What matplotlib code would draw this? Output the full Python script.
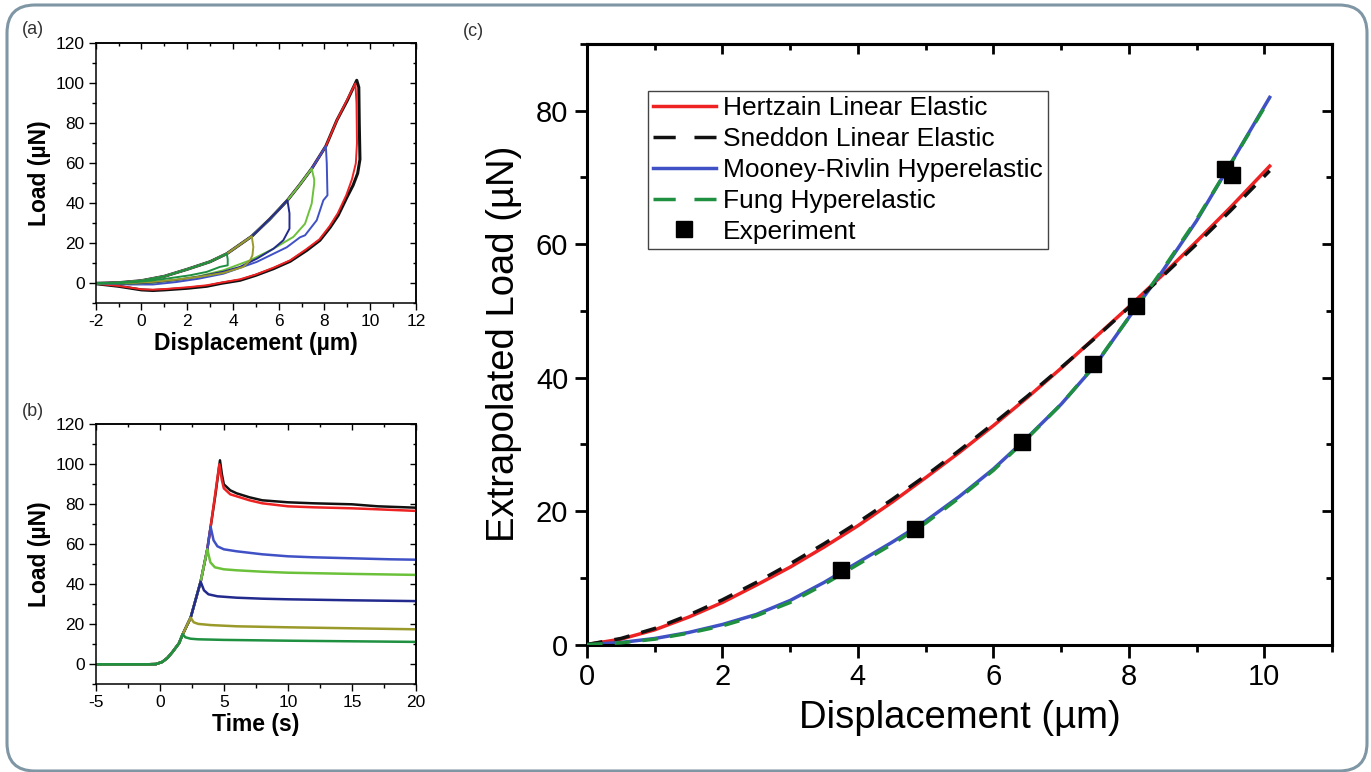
import matplotlib
matplotlib.use("Agg")
import matplotlib.pyplot as plt
from matplotlib.patches import FancyBboxPatch
from matplotlib.lines import Line2D
from matplotlib.transforms import IdentityTransform
from matplotlib.ticker import MultipleLocator

plt.rcParams['font.family'] = ['Liberation Sans', 'DejaVu Sans']
plt.rcParams['axes.unicode_minus'] = False

# ---------------- Panel (a): load vs displacement hysteresis ----------------
a_load_x = [-2, -1, 0, 1, 2, 3, 3.73, 4.82, 5.6, 6.38, 6.9, 7.44, 8.06, 8.54, 9.0, 9.41]
a_load_y = [0, 0.3, 1.3, 3.5, 7, 10.8, 14.8, 23.5, 32, 41.5, 49, 57.3, 68.6, 81.5, 91.5, 101.5]

a_black_peak = 15
a_black_ux = [9.41, 9.5, 9.52, 9.55, 9.45, 9.25, 8.98, 8.6, 8.25, 7.8, 7.23, 6.5, 5.77, 5.0, 4.31, 3.5, 2.85, 2.0, 1.0, 0.5, 0, -1, -2]
a_black_uy = [101.5, 98, 80, 62, 55, 49, 43, 34, 28, 21.5, 16.5, 11, 7.3, 4.0, 1.5, 0, -1.5, -2.5, -3.3, -3.6, -3.3, -1.5, -0.2]

a_red_peak = 14
a_red_ux = [9.35, 9.4, 9.42, 9.37, 9.2, 8.95, 8.58, 8.22, 7.78, 7.2, 6.5, 5.77, 5.0, 4.31, 3.5, 2.85, 2.0, 1.0, 0.5, 0, -1, -2]
a_red_uy = [100, 90, 70, 60, 52, 44, 35, 28.5, 22, 17, 11.5, 7.8, 4.4, 2, 0.4, -1.0, -2.0, -2.9, -3.2, -3.0, -1.3, -0.2]

a_blue_peak = 12
a_blue_ux = [8.06, 8.1, 8.13, 7.95, 7.66, 7.15, 6.93, 6.35, 5.04, 3.58, 2.5, 1.5, 0.5, -0.5, -2]
a_blue_uy = [68.6, 60, 44, 41.5, 31.5, 24, 23, 18, 10.7, 4.8, 2.3, 0.6, -0.6, -0.6, 0]

a_lgreen_peak = 11
a_lgreen_ux = [7.44, 7.55, 7.55, 7.44, 7.15, 6.64, 5.77, 4.75, 3.58, 2.5, 1.5, 0.5, -0.5, -2]
a_lgreen_uy = [57.3, 52, 49.8, 39.8, 29.8, 23.2, 17.3, 11.5, 6.5, 3.5, 1.7, 0.3, -0.3, 0]

a_navy_peak = 9
a_navy_ux = [6.38, 6.47, 6.47, 6.2, 5.77, 5.04, 4.31, 3.58, 2.5, 1.5, 0.5, -0.5, -2]
a_navy_uy = [41.5, 35, 27.3, 21.5, 17.3, 12.3, 8.2, 5.8, 3.3, 1.6, 0.4, -0.2, 0]

a_olive_peak = 7
a_olive_ux = [4.82, 4.89, 4.85, 4.75, 4.45, 3.58, 2.5, 1.5, 0.5, -0.5, -2]
a_olive_uy = [23.5, 18.2, 14, 11.5, 8.2, 5.2, 3.2, 1.8, 0.7, 0.1, 0]

a_green_peak = 6
a_green_ux = [3.73, 3.77, 3.77, 3.43, 2.85, 2.12, 1.2, 0.38, -0.5, -2]
a_green_uy = [14.8, 12, 9, 8.2, 5.7, 4.0, 2.5, 1.3, 0.4, 0]

# ---------------- Panel (b): load vs time ----------------
b_rise_t = [-5, -4, -3, -2, -1, -0.3, 0.2, 0.6, 1.0, 1.5, 1.79, 2.41, 3.19, 3.71, 3.97, 4.35, 4.70]
b_rise_y = [0, 0, 0, 0, 0, 0.1, 1.2, 3.2, 6.2, 10.5, 15, 23.3, 41.3, 57.5, 68.7, 85, 102]

b_black_peak = 16
b_black_t = [4.70, 4.85, 5.0, 5.5, 6, 7, 8, 10, 12, 15, 17, 20]
b_black_y = [102, 95, 90, 87, 85.5, 83.5, 82, 81, 80.5, 80, 79, 78.3]
b_red_peak = 15
b_red_t = [4.65, 4.85, 5.0, 5.5, 6, 7, 8, 10, 12, 15, 17, 20]
b_red_y = [100, 92, 88, 85, 84, 82, 80.5, 79, 78.5, 78, 77.5, 76.7]
b_blue_peak = 14
b_blue_t = [3.97, 4.2, 4.5, 5, 6, 8, 10, 12, 15, 18, 20]
b_blue_y = [68.7, 62, 59, 57.5, 56.5, 55, 54, 53.5, 53, 52.5, 52.3]
b_lgreen_peak = 13
b_lgreen_t = [3.71, 3.95, 4.3, 5, 6, 8, 10, 15, 20]
b_lgreen_y = [57.5, 51, 48.5, 47.5, 47, 46.3, 45.8, 45.2, 44.7]
b_navy_peak = 12
b_navy_t = [3.19, 3.45, 3.8, 4.5, 6, 8, 10, 15, 20]
b_navy_y = [41.3, 37, 35, 34, 33.3, 32.8, 32.5, 32, 31.6]
b_olive_peak = 11
b_olive_t = [2.41, 2.65, 3.0, 4, 6, 10, 15, 20]
b_olive_y = [23.3, 21, 20.2, 19.6, 19, 18.5, 18, 17.5]
b_green_peak = 10
b_green_t = [1.79, 2.0, 2.4, 3, 5, 10, 15, 20]
b_green_y = [15, 13.5, 12.8, 12.5, 12.2, 11.8, 11.5, 11.2]

# ---------------- Panel (c): extrapolated load ----------------
c_disp = [0, 0.5, 1, 1.5, 2, 2.5, 3, 3.5, 4, 4.5, 5, 5.5, 6, 6.5, 7, 7.5, 8, 8.5, 9, 9.5, 10.08]
c_hertz = [0, 0.8, 2.2, 4.1, 6.3, 8.9, 11.6, 14.6, 17.8, 21.3, 25.0, 28.8, 32.8, 37.0, 41.4, 46.0, 50.6, 55.4, 60.4, 65.5, 71.7]
c_sneddon = [0, 0.9, 2.4, 4.4, 6.7, 9.3, 12.1, 15.1, 18.3, 21.7, 25.3, 29.1, 33.1, 37.2, 41.5, 45.9, 50.5, 55.2, 60.0, 65.0, 71.0]
c_mooney = [0, 0.3, 0.9, 1.8, 3.0, 4.5, 6.6, 9.3, 12.3, 15.3, 18.5, 22.2, 26.3, 31.0, 36.0, 41.8, 49.0, 56.0, 63.5, 72.0, 82.0]
c_fung = [0, 0.25, 0.8, 1.7, 2.8, 4.3, 6.3, 9.0, 12.0, 15.0, 18.2, 22.0, 26.1, 30.9, 36.0, 41.9, 49.0, 56.2, 63.7, 72.0, 81.8]
c_exp_x = [3.75, 4.85, 6.42, 7.47, 8.1, 9.42, 9.52]
c_exp_y = [11.2, 17.3, 30.3, 42.0, 50.7, 71.2, 70.3]

legend_labels = ["Hertzain Linear Elastic", "Sneddon Linear Elastic",
                 "Mooney-Rivlin Hyperelastic", "Fung Hyperelastic", "Experiment"]

COL_BLACK = '#111111'
COL_RED = '#ee2222'
COL_BLUE = '#3f51c5'
COL_LGREEN = '#6cc13a'
COL_NAVY = '#232a8e'
COL_OLIVE = '#9a9a2a'
COL_GREEN = '#1e9040'

W, H = 1371, 772
fig = plt.figure(figsize=(W / 100, H / 100), dpi=100)


def ax_rect(l, t, r, b):
    return [l / W, 1 - b / H, (r - l) / W, (b - t) / H]


def style_axes(ax, xmaj, xmin, ymaj, ymin, lw, lab_size, major_len, minor_len, tw, pad):
    for s in ax.spines.values():
        s.set_linewidth(lw)
    ax.xaxis.set_major_locator(MultipleLocator(xmaj))
    ax.xaxis.set_minor_locator(MultipleLocator(xmin))
    ax.yaxis.set_major_locator(MultipleLocator(ymaj))
    ax.yaxis.set_minor_locator(MultipleLocator(ymin))
    ax.tick_params(which='both', direction='out', top=False, right=False,
                   labelsize=lab_size, width=tw, pad=pad)
    ax.tick_params(which='major', length=major_len)
    ax.tick_params(which='minor', length=minor_len)
    secx = ax.secondary_xaxis('top')
    secx.xaxis.set_major_locator(MultipleLocator(xmaj))
    secx.xaxis.set_minor_locator(MultipleLocator(xmin))
    secx.tick_params(which='both', direction='in', labeltop=False, width=tw)
    secx.tick_params(which='major', length=major_len * 0.8)
    secx.tick_params(which='minor', length=minor_len * 0.8)
    secx.spines['top'].set_linewidth(lw)
    secy = ax.secondary_yaxis('right')
    secy.yaxis.set_major_locator(MultipleLocator(ymaj))
    secy.yaxis.set_minor_locator(MultipleLocator(ymin))
    secy.tick_params(which='both', direction='in', labelright=False, width=tw)
    secy.tick_params(which='major', length=major_len * 0.8)
    secy.tick_params(which='minor', length=minor_len * 0.8)
    secy.spines['right'].set_linewidth(lw)


# ----- (a)
axa = fig.add_axes(ax_rect(95.7, 43.3, 416, 303.3))
a_curves = [
    (a_black_peak, a_black_ux, a_black_uy, COL_BLACK),
    (a_red_peak, a_red_ux, a_red_uy, COL_RED),
    (a_blue_peak, a_blue_ux, a_blue_uy, COL_BLUE),
    (a_lgreen_peak, a_lgreen_ux, a_lgreen_uy, COL_LGREEN),
    (a_navy_peak, a_navy_ux, a_navy_uy, COL_NAVY),
    (a_olive_peak, a_olive_ux, a_olive_uy, COL_OLIVE),
    (a_green_peak, a_green_ux, a_green_uy, COL_GREEN),
]
for pk, ux, uy, col in a_curves:
    xs = a_load_x[:pk] + ux
    ys = a_load_y[:pk] + uy
    axa.plot(xs, ys, color=col, lw=1.4 if col != COL_BLACK else 2.2)
axa.set_xlim(-2, 12)
axa.set_ylim(-10, 120)
style_axes(axa, 2, 1, 20, 10, 1.1, 12.5, 5, 3, 1.0, 3)
axa.set_xlabel("Displacement (µm)", fontsize=16.5, fontweight='bold', labelpad=2)
axa.set_ylabel("Load (µN)", fontsize=16.5, fontweight='bold', labelpad=3)

# ----- (b)
axb = fig.add_axes(ax_rect(95.7, 424.3, 416, 684.3))
b_curves = [
    (b_black_peak, b_black_t, b_black_y, COL_BLACK),
    (b_red_peak, b_red_t, b_red_y, COL_RED),
    (b_blue_peak, b_blue_t, b_blue_y, COL_BLUE),
    (b_lgreen_peak, b_lgreen_t, b_lgreen_y, COL_LGREEN),
    (b_navy_peak, b_navy_t, b_navy_y, COL_NAVY),
    (b_olive_peak, b_olive_t, b_olive_y, COL_OLIVE),
    (b_green_peak, b_green_t, b_green_y, COL_GREEN),
]
for pk, tt, yy, col in b_curves:
    xs = b_rise_t[:pk] + tt
    ys = b_rise_y[:pk] + yy
    axb.plot(xs, ys, color=col, lw=1.8)
axb.set_xlim(-5, 20)
axb.set_ylim(-10, 120)
style_axes(axb, 5, 2.5, 20, 10, 1.1, 12.5, 5, 3, 1.0, 3)
axb.set_xlabel("Time (s)", fontsize=16.5, fontweight='bold', labelpad=2)
axb.set_ylabel("Load (µN)", fontsize=16.5, fontweight='bold', labelpad=3)

# ----- (c)
axc = fig.add_axes(ax_rect(587, 44, 1332, 644.5))
axc.plot(c_disp, c_hertz, color=COL_RED, lw=2.5, zorder=2)
axc.plot(c_disp, c_sneddon, color=COL_BLACK, lw=2.5, dashes=(4.5, 3.5), zorder=3)
axc.plot(c_disp, c_mooney, color=COL_BLUE, lw=2.5, zorder=2)
axc.plot(c_disp, c_fung, color=COL_GREEN, lw=2.5, dashes=(4.5, 3.5), zorder=3)
axc.plot(c_exp_x, c_exp_y, ls='none', marker='s', ms=11.5, color='black', zorder=5)
axc.set_xlim(0, 11)
axc.set_ylim(0, 90)
style_axes(axc, 2, 1, 20, 10, 2.2, 21, 9, 5, 2.0, 4.5)
axc.set_xlabel("Displacement (µm)", fontsize=27.5, labelpad=6)
axc.set_ylabel("Extrapolated Load (µN)", fontsize=27.5, labelpad=10)

handles = [
    Line2D([], [], color=COL_RED, lw=2.5),
    Line2D([], [], color=COL_BLACK, lw=2.5, dashes=(6.4, 5.4)),
    Line2D([], [], color=COL_BLUE, lw=2.5),
    Line2D([], [], color=COL_GREEN, lw=2.5, dashes=(6.4, 5.4)),
    Line2D([], [], ls='none', marker='s', ms=11.5, color='black'),
]
leg = axc.legend(handles, legend_labels, loc='upper left',
                 bbox_to_anchor=((647.5 - 587) / 745, (644.5 - 91) / 600.5),
                 fontsize=19, frameon=True, fancybox=False, edgecolor='#444444',
                 handlelength=2.4, handletextpad=0.25, borderpad=0.2,
                 labelspacing=0.26, borderaxespad=0)
leg.get_frame().set_linewidth(1.0)
leg.get_frame().set_alpha(1)

# panel letters
fig.text(22 / W, 1 - 30 / H, "(a)", fontsize=13, color='#333333', va='center', ha='left')
fig.text(22 / W, 1 - 411 / H, "(b)", fontsize=13, color='#333333', va='center', ha='left')
fig.text(463 / W, 1 - 31 / H, "(c)", fontsize=13, color='#333333', va='center', ha='left')

# rounded frame
frame = FancyBboxPatch((7, 1), 1360, 766, boxstyle="round,pad=0,rounding_size=28",
                       transform=IdentityTransform(), facecolor='none',
                       edgecolor='#7f96a4', linewidth=2.2)
fig.add_artist(frame)

fig.savefig("out.png", dpi=100)
